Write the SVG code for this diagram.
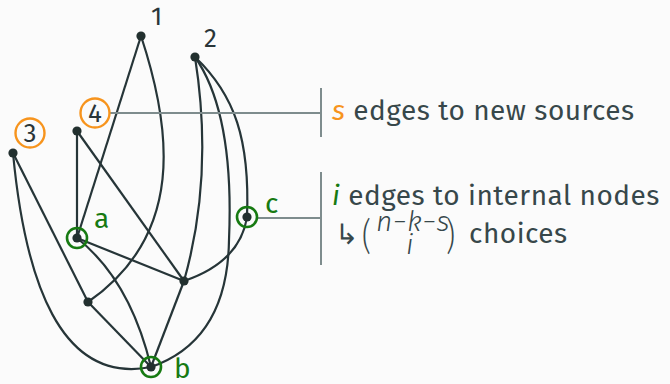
<svg xmlns="http://www.w3.org/2000/svg" width="670" height="384" viewBox="0 0 670 384">
<style>
.e{fill:none;stroke:#263538;stroke-width:2.2}
.d{fill:#22302f}
.g{fill:none;stroke:#177a12;stroke-width:2.6}
.o{fill:none;stroke:#f7941d;stroke-width:2.4}
.t{font-family:"Fira Sans",Roboto,"Open Sans",sans-serif;font-size:26px;fill:#2a3538}
.gl{font-family:"Fira Sans",Roboto,"Open Sans",sans-serif;font-size:28px;fill:#177a12}
.m{font-family:"Fira Sans",Roboto,"Open Sans",sans-serif;font-size:28px;letter-spacing:0.5px;fill:#37474a}
.c{fill:none;stroke:#7e8c8d;stroke-width:2}
</style>
<rect width="670" height="384" fill="#fbfbfb"/>
<g id="connectors">
<line class="e" x1="141" y1="36" x2="77" y2="238"/>
<path class="e" d="M141,36 C172,130 185,235 88,302"/>
<path class="e" d="M195,57 C205,120 207,200 184,281"/>
<path class="e" d="M195,57 C225,100 232,170 229,240 C228,310 200,350 151,367"/>
<path class="e" d="M195,57 C235,95 250,140 247,217"/>
<line class="e" x1="77" y1="131" x2="77" y2="238"/>
<line class="e" x1="77" y1="131" x2="184" y2="281"/>
<line class="e" x1="13" y1="153" x2="88" y2="302"/>
<path class="e" d="M13,153 C25,280 60,385 151,367"/>
<line class="e" x1="77" y1="238" x2="184" y2="281"/>
<path class="e" d="M77,238 Q130,280 151,367"/>
<line class="e" x1="88" y1="302" x2="151" y2="367"/>
<line class="e" x1="184" y1="281" x2="151" y2="367"/>
<path class="e" d="M184,281 Q240,262 247,217"/>
<line class="c" x1="110" y1="113" x2="321" y2="113"/>
<line class="c" x1="258" y1="218" x2="321" y2="218"/>
<line class="c" x1="321" y1="88" x2="321" y2="137"/>
<line class="c" x1="321" y1="172" x2="321" y2="265"/>
</g>
<g id="n1"><circle class="d" cx="141" cy="36" r="4.6"/><text class="t" x="151" y="25">1</text></g>
<g id="n2"><circle class="d" cx="195" cy="57" r="4.6"/><text class="t" x="204" y="47">2</text></g>
<g id="n4"><circle class="d" cx="77" cy="131" r="4.6"/><circle class="o" cx="95" cy="113" r="14.5"/><text class="t" x="95" y="122" text-anchor="middle">4</text></g>
<g id="n3"><circle class="d" cx="13" cy="153" r="4.6"/><circle class="o" cx="30" cy="133" r="14.5"/><text class="t" x="30" y="142" text-anchor="middle">3</text></g>
<g id="na"><circle class="d" cx="77" cy="238" r="4.6"/><circle class="g" cx="77" cy="238" r="10"/><text class="gl" x="94" y="228">a</text></g>
<g id="nc"><circle class="d" cx="247" cy="217" r="4.6"/><circle class="g" cx="247" cy="217" r="10"/><text class="gl" x="265" y="213">c</text></g>
<g id="nm"><circle class="d" cx="184" cy="281" r="4.6"/></g>
<g id="nl"><circle class="d" cx="88" cy="302" r="4.6"/></g>
<g id="nb"><circle class="d" cx="151" cy="367" r="4.6"/><circle class="g" cx="151" cy="367" r="10"/><text class="gl" x="174" y="378" font-size="27">b</text></g>
<g id="labels">
<text class="m" x="332" y="120"><tspan fill="#f7941d" font-style="italic">s</tspan> edges to new sources</text>
<text class="m" x="332" y="205"><tspan fill="#177a12" font-style="italic">i</tspan> edges to internal nodes</text>
<text class="m" x="335" y="244" font-size="24" font-weight="300">↳</text>
<text class="m" font-size="26" font-weight="300" transform="translate(362,249) scale(1,1.3)">(</text>
<text class="m" x="376" y="231" font-size="16" font-style="italic" font-weight="300" letter-spacing="1.8">n−k−s</text>
<text class="m" x="406" y="254" font-size="17" font-style="italic" font-weight="300">i</text>
<text class="m" font-size="26" font-weight="300" transform="translate(446,249) scale(1,1.3)">)</text>
<text class="m" x="469" y="243">choices</text>
</g>
</svg>
